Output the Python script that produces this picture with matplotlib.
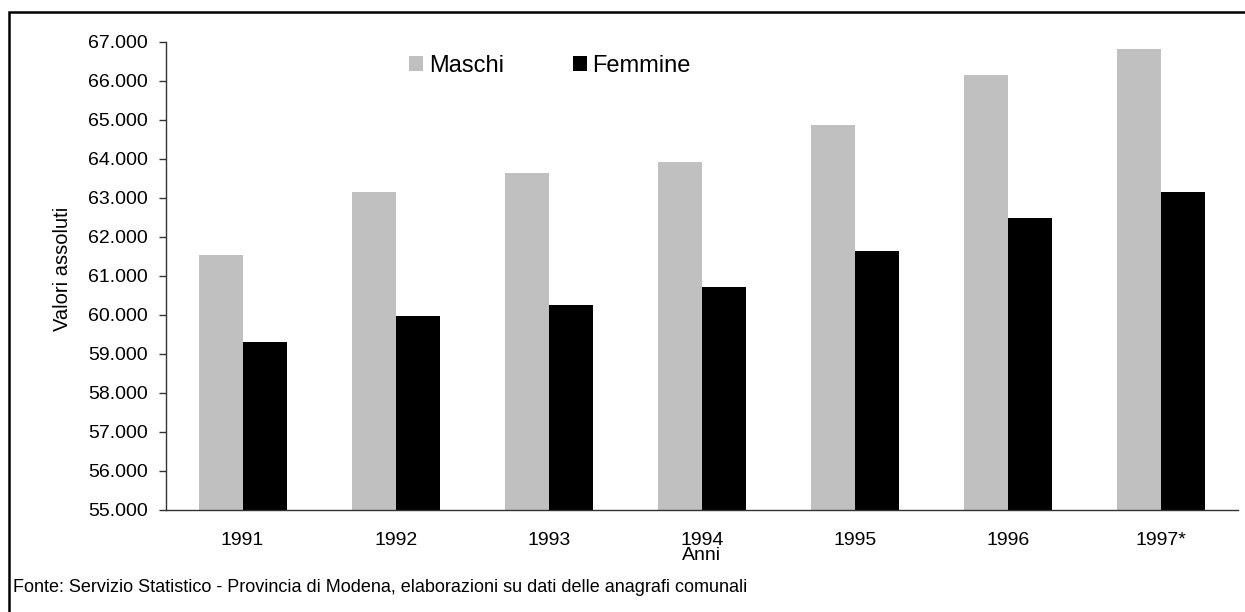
import matplotlib
matplotlib.use("Agg")
import matplotlib.pyplot as plt
import numpy as np
from matplotlib.ticker import FuncFormatter, MultipleLocator
from matplotlib.patches import Rectangle, Patch

plt.rcParams['font.family'] = ['Liberation Sans', 'DejaVu Sans']

anni = ["1991", "1992", "1993", "1994", "1995", "1996", "1997*"]
maschi = [61540, 63160, 63640, 63930, 64880, 66160, 66830]
femmine = [59300, 59970, 60250, 60720, 61640, 62490, 63160]

W, H = 1245, 612
fig = plt.figure(figsize=(W / 100, H / 100), dpi=100)

# outer frame (only left and top visible, extends beyond the canvas)
fig.patches.append(Rectangle((9 / W, -0.1), 1.2, (1 - 12 / H) + 0.1,
                             transform=fig.transFigure, fill=False,
                             edgecolor='black', linewidth=1.8))

ax = fig.add_axes([166 / W, 1 - 509.5 / H, (1238 - 166) / W, (509.5 - 42) / H])

x = np.arange(len(anni))
bw = 0.287
ax.bar(x - bw / 2, [v - 55000 for v in maschi], bw, bottom=55000, color='#c0c0c0', label='Maschi')
ax.bar(x + bw / 2, [v - 55000 for v in femmine], bw, bottom=55000, color='black', label='Femmine')

ax.set_xlim(-0.5, len(anni) - 0.5)
ax.set_ylim(55000, 67000)
ax.yaxis.set_major_locator(MultipleLocator(1000))
ax.yaxis.set_major_formatter(FuncFormatter(lambda v, p: f"{v/1000:.3f}"))
ax.set_xticks(x)
ax.set_xticklabels(anni)

for s in ['top', 'right']:
    ax.spines[s].set_visible(False)
for s in ['left', 'bottom']:
    ax.spines[s].set_color('#333333')
    ax.spines[s].set_linewidth(1.0)

ax.tick_params(axis='y', length=5, width=1, color='#333333', labelsize=14, pad=8)
ax.tick_params(axis='x', length=0, labelsize=14, pad=16)
ax.set_xlabel("Anni", fontsize=14, labelpad=-1)

fig.text(62 / W, 1 - 269 / H, "Valori assoluti", rotation=90,
         fontsize=14.5, ha='center', va='center')

handles = [Patch(facecolor='#c0c0c0', edgecolor='none', label='Maschi'),
           Patch(facecolor='black', edgecolor='none', label='Femmine')]
ax.legend(handles=handles, ncol=2, frameon=False, fontsize=17,
          loc='center left', bbox_to_anchor=((409 - 166) / (1238 - 166), 1 - (66 - 42) / (509.5 - 42)),
          handlelength=0.6, handleheight=0.6, handletextpad=0.25, columnspacing=2.9,
          borderaxespad=0, borderpad=0)

fig.text(13 / W, 1 - 588 / H,
         "Fonte: Servizio Statistico - Provincia di Modena, elaborazioni su dati delle anagrafi comunali",
         fontsize=13, va='center', ha='left')

fig.savefig("out.png", dpi=100)
